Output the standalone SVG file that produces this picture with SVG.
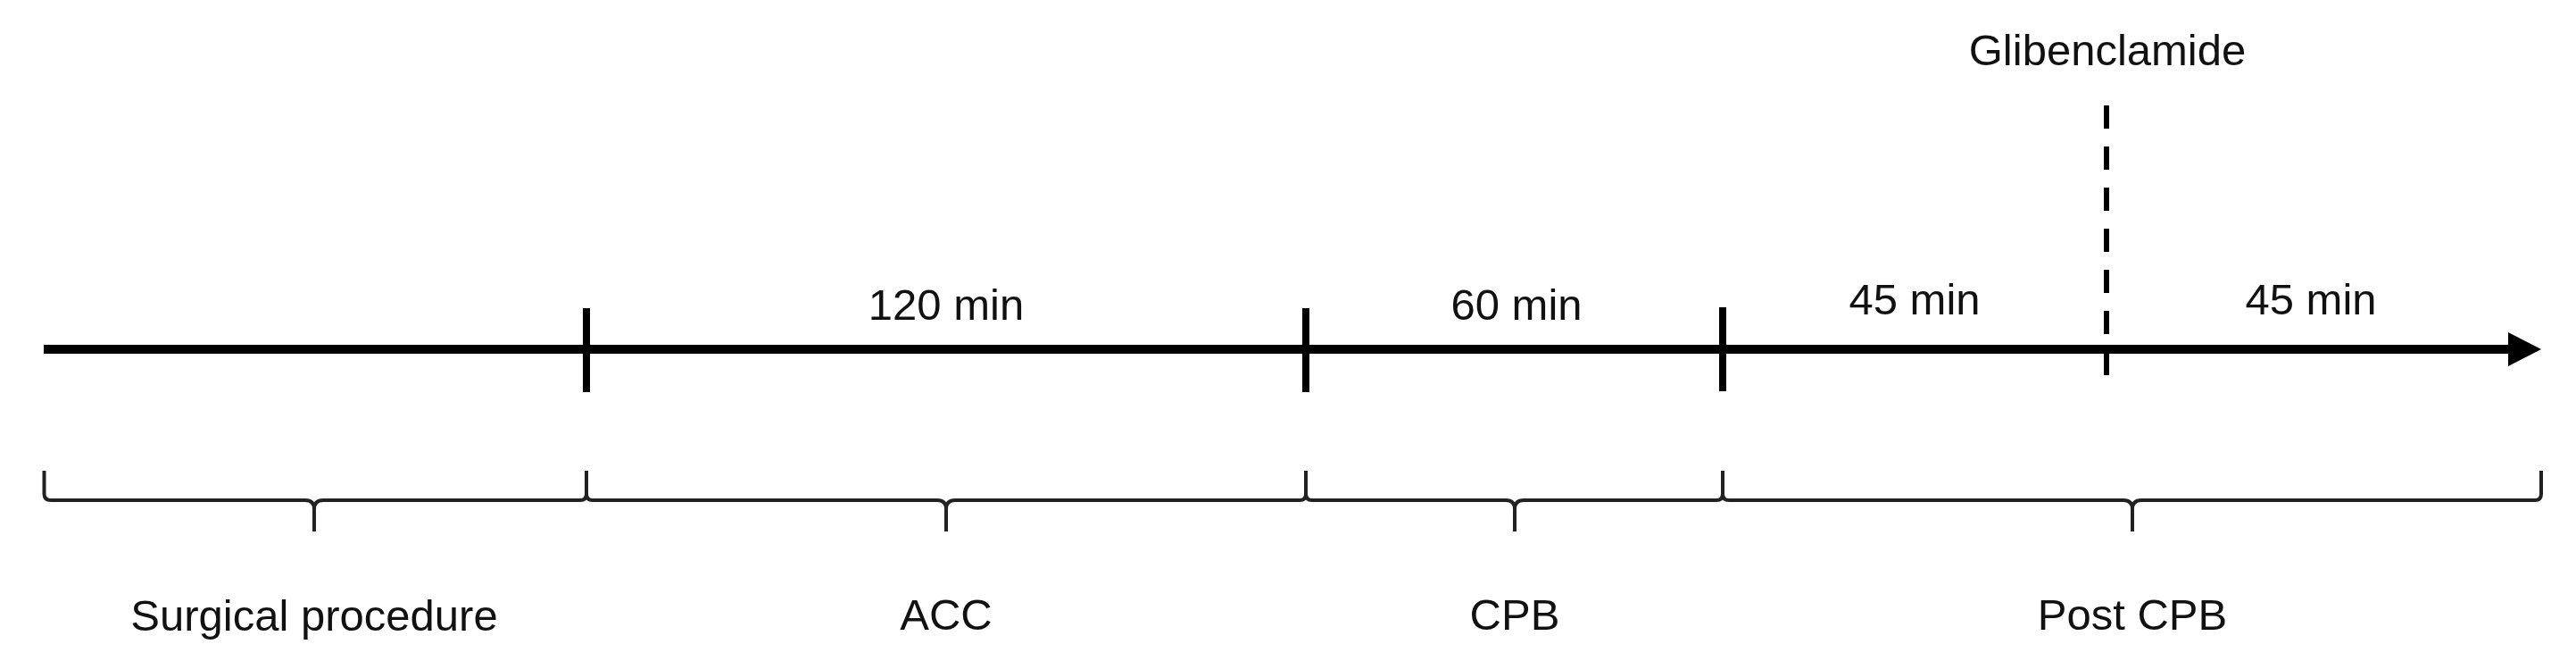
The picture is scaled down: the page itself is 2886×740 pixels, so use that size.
<svg xmlns="http://www.w3.org/2000/svg" width="2886" height="740" viewBox="0 0 2886 740">
  <style>
    .lbl { font-family: "Liberation Sans", Arial, sans-serif; font-size: 49px; fill: #111; text-anchor: middle; }
    .tick { stroke: #000; stroke-width: 8; fill: none; }
    .brace { stroke: #222; stroke-width: 4; fill: none; stroke-linejoin: round; }
  </style>
  <defs>
    <marker id="arrow" markerUnits="userSpaceOnUse" markerWidth="40" markerHeight="40" refX="2" refY="19" orient="auto">
      <path d="M0,0 L37,19 L0,38 Z" fill="#000"/>
    </marker>
  </defs>
  <rect width="2886" height="740" fill="#fff"/>

  <g id="connectors">
    <line id="axis" x1="49" y1="391" x2="2812" y2="391" stroke="#000" stroke-width="10" marker-end="url(#arrow)"/>
    <line id="glib-line" x1="2360" y1="118" x2="2360" y2="422" stroke="#000" stroke-width="6" stroke-dasharray="26 20"/>
  </g>

  <g id="ticks">
    <line class="tick" x1="657" y1="345" x2="657" y2="439"/>
    <line class="tick" x1="1463" y1="345" x2="1463" y2="439"/>
    <line class="tick" x1="1930" y1="344" x2="1930" y2="438"/>
  </g>

  <g id="surgical">
    <path class="brace" d="M49.5,527 L49.5,553 Q49.5,560 57,560 L342,560 Q352,560 352,570 L352,595 M352,570 Q352,560 362,560 L650,560 Q657,560 657,553 L657,527"/>
    <text class="lbl" x="352" y="706">Surgical procedure</text>
  </g>

  <g id="acc">
    <path class="brace" d="M657,527 L657,553 Q657,560 664,560 L1050,560 Q1060,560 1060,570 L1060,595 M1060,570 Q1060,560 1070,560 L1456,560 Q1463,560 1463,553 L1463,527"/>
    <text class="lbl" x="1060" y="358">120 min</text>
    <text class="lbl" x="1060" y="705">ACC</text>
  </g>

  <g id="cpb">
    <path class="brace" d="M1463,527 L1463,553 Q1463,560 1470,560 L1687,560 Q1697,560 1697,570 L1697,595 M1697,570 Q1697,560 1707,560 L1923,560 Q1930,560 1930,553 L1930,527"/>
    <text class="lbl" x="1699" y="358">60 min</text>
    <text class="lbl" x="1697" y="705">CPB</text>
  </g>

  <g id="postcpb">
    <path class="brace" d="M1930,527 L1930,553 Q1930,560 1937,560 L2379,560 Q2389,560 2389,570 L2389,595 M2389,570 Q2389,560 2399,560 L2840,560 Q2847,560 2847,553 L2847,527"/>
    <text class="lbl" x="2145" y="352">45 min</text>
    <text class="lbl" x="2589" y="352">45 min</text>
    <text class="lbl" x="2389" y="705">Post CPB</text>
  </g>

  <g id="glibenclamide">
    <text class="lbl" x="2361" y="73">Glibenclamide</text>
  </g>
</svg>
